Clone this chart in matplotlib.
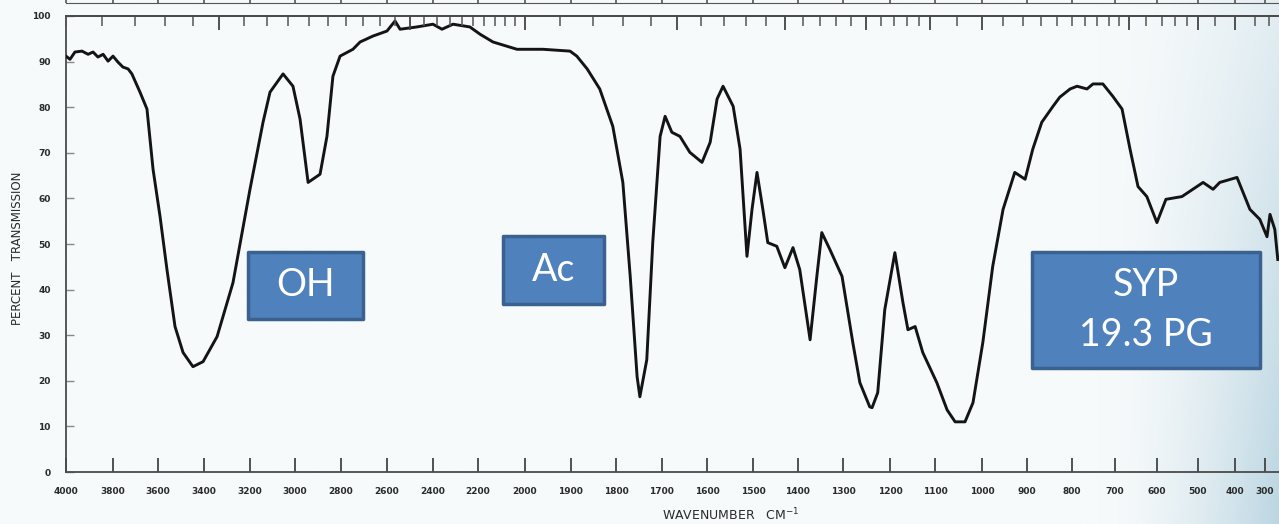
import numpy as np
import matplotlib
matplotlib.use("Agg")
import matplotlib.pyplot as plt
from matplotlib.patches import Rectangle

# ---------------- data ----------------
wavenumber = [4000, 3983, 3962, 3932, 3906, 3885, 3864, 3842, 3821, 3800, 3778, 3756, 3733, 3716,
              3680, 3649, 3622, 3591, 3561, 3526, 3491, 3448, 3404, 3343, 3274,
              3200, 3142, 3111, 3053, 3009, 2978, 2943, 2891, 2861, 2835, 2804,
              2748, 2717, 2661, 2600, 2565, 2543, 2470, 2400, 2360, 2311, 2236, 2191, 2136,
              2034, 1961, 1902, 1887, 1864, 1836, 1807, 1785, 1769, 1754, 1748, 1733,
              1720, 1704, 1693, 1678, 1660, 1638, 1611, 1593, 1578, 1565, 1543,
              1528, 1513, 1502, 1491, 1478, 1467, 1447, 1429, 1411, 1396, 1373, 1358, 1347,
              1329, 1302, 1279, 1264, 1243, 1238, 1226, 1211, 1189, 1171, 1160, 1144,
              1127, 1096, 1074, 1057, 1036, 1019, 998, 976, 953, 927, 904, 887,
              867, 842, 827, 804, 788, 765, 751, 728, 705, 683, 664, 645,
              624, 600, 578, 539, 486, 459, 441, 393, 350, 317, 293, 283, 267, 257]
transmission = [91.2, 90.5, 92.1, 92.3, 91.6, 92.1, 91.0, 91.6, 90.1, 91.2, 89.9, 88.8, 88.4, 87.3,
                83.3, 79.6, 66.4, 56.0, 44.4, 31.9, 26.2, 23.1, 24.2, 29.7, 41.5,
                62.0, 76.7, 83.3, 87.3, 84.6, 77.4, 63.5, 65.3, 73.6, 86.8, 91.2,
                92.7, 94.3, 95.6, 96.7, 98.9, 97.1, 97.6, 98.2, 97.1, 98.2, 97.6, 96.0, 94.3,
                92.7, 92.7, 92.3, 91.2, 88.4, 84.0, 75.8, 63.5, 42.9, 20.9, 16.5, 24.6,
                50.3, 73.6, 78.0, 74.5, 73.6, 70.1, 67.9, 72.3, 81.8, 84.6, 80.2,
                70.8, 47.3, 57.6, 65.7, 57.6, 50.3, 49.5, 44.8, 49.2, 44.4, 29.0, 42.9, 52.5,
                48.8, 42.9, 28.4, 19.6, 14.3, 14.1, 17.4, 35.6, 48.1, 37.1, 31.2, 31.9,
                26.2, 19.6, 13.6, 11.0, 11.0, 15.2, 28.4, 45.1, 57.6, 65.7, 64.2, 70.8,
                76.7, 80.2, 82.2, 84.0, 84.6, 84.0, 85.1, 85.1, 82.4, 79.6, 70.8, 62.6,
                60.4, 54.7, 59.8, 60.4, 63.5, 62.0, 63.5, 64.6, 57.6, 55.4, 51.6, 56.5, 53.2, 46.6]

x_ticks = [4000, 3800, 3600, 3400, 3200, 3000, 2800, 2600, 2400, 2200, 2000, 1900, 1800, 1700,
           1600, 1500, 1400, 1300, 1200, 1100, 1000, 900, 800, 700, 600, 500, 400, 300]
x_tick_labels = [str(v) for v in x_ticks]
y_ticks = [0, 10, 20, 30, 40, 50, 60, 70, 80, 90, 100]
y_tick_labels = [str(v) for v in y_ticks]
top_micron_minor = list(np.round(np.arange(2.5, 5.0, 0.1), 2)) + list(np.round(np.arange(5.0, 9.0, 0.2), 2)) + \
    list(np.round(np.arange(9.0, 15.0, 0.5), 2)) + [15, 16, 17, 18, 19, 20, 22, 25, 30, 35]
top_micron_major = [3, 4, 5, 6, 7, 8, 9, 10, 15, 20, 25]

annotations = ["OH", "Ac", "SYP\n19.3 PG"]

# ---------------- chart x calibration (grating change at 2000 cm-1) ----------------
scale_wn = np.array([4100] + x_ticks + [200], dtype=float)
scale_pos = np.array([42.5, 66, 113, 158, 204, 250, 295, 341, 387, 433, 478, 525, 571, 616, 662,
                      707, 753, 798, 843, 890, 935, 982, 1027, 1072, 1115, 1157, 1198, 1235, 1265, 1295],
                     dtype=float)


def fwd(w):
    # increasing with wavenumber (axis is then shown inverted: 4000 on the left)
    return -np.interp(w, scale_wn[::-1], scale_pos[::-1])


def inv(t):
    return np.interp(-np.asarray(t, dtype=float), scale_pos, scale_wn)


W, H = 1279, 524
fig = plt.figure(figsize=(W / 100, H / 100), dpi=100)

# paper background with a bluish tint at the right edge
bg = fig.add_axes([0, 0, 1, 1], zorder=-5)
gx = np.linspace(0, 1, 400)[None, :]
gy = np.linspace(0, 1, 200)[:, None]
wgt = np.clip((gx - 0.86) / 0.14, 0, 1) ** 1.6 * (0.35 + 0.65 * gy)
base = np.array([247, 250, 251]) / 255
tint = np.array([188, 214, 226]) / 255
img = base[None, None, :] * (1 - wgt[..., None]) + tint[None, None, :] * wgt[..., None]
bg.imshow(img, aspect="auto", extent=[0, 1, 0, 1], origin="upper")
bg.set_axis_off()

ax = fig.add_axes([66 / W, (H - 472) / H, (W - 66) / W, 456 / H])
ax.set_facecolor("none")
ax.set_xscale("function", functions=(fwd, inv))
ax.set_xlim(4000, 253)
ax.set_ylim(0, 100)

ax.plot(wavenumber, transmission, color="#141414", lw=2.1, solid_joinstyle="round", zorder=3)

for s in ["left", "bottom", "top"]:
    ax.spines[s].set_color("#4a4a4a")
    ax.spines[s].set_linewidth(1.3)
ax.spines["right"].set_visible(False)

tick_font = dict(fontsize=6.5, fontweight="bold", color="#2a2a2a")
ax.set_xticks(x_ticks)
ax.set_xticklabels(x_tick_labels, **tick_font)
ax.xaxis.set_minor_locator(matplotlib.ticker.NullLocator())
ax.set_yticks(y_ticks)
ax.set_yticklabels(y_tick_labels, **tick_font)
ax.tick_params(axis="x", direction="in", length=10, width=1.3, color="#444444", pad=11)
ax.tick_params(axis="y", direction="in", length=6, width=1.0, color="#888888", pad=11)

# top wavelength (micron) ticks
ax2 = ax.twiny()
ax2.set_xscale("function", functions=(fwd, inv))
ax2.set_xlim(ax.get_xlim())
ax2.set_xticks([1e4 / m for m in top_micron_major])
ax2.set_xticks([1e4 / m for m in top_micron_minor], minor=True)
ax2.set_xticklabels([])
ax2.tick_params(axis="x", which="major", direction="in", length=10, width=1.3, color="#444444")
ax2.tick_params(axis="x", which="minor", direction="in", length=7, width=1.1, color="#555555")
for s in ["left", "bottom", "right"]:
    ax2.spines[s].set_visible(False)
ax2.spines["top"].set_color("#4a4a4a")
ax2.spines["top"].set_linewidth(1.3)

# bottom axis of the spectrum above (cut off at the top of the scan)
axp = fig.add_axes([66 / W, (H - 2.5) / H, (W - 66) / W, 0.02])
axp.set_facecolor("none")
axp.set_xscale("function", functions=(fwd, inv))
axp.set_xlim(4000, 253)
axp.set_xticks(x_ticks)
axp.set_xticklabels([])
axp.set_yticks([])
axp.tick_params(axis="x", direction="in", length=8, width=1.2, color="#555555")
for s in ["left", "right", "top"]:
    axp.spines[s].set_visible(False)
axp.spines["bottom"].set_color("#555555")

fig.text(731 / W, (H - 515) / H, "WAVENUMBER   CM$^{-1}$", fontsize=9, color="#2a2a2a",
         ha="center", va="center")
fig.text(18 / W, (H - 248) / H, "PERCENT   TRANSMISSION", fontsize=8.5, color="#2a2a2a",
         rotation=90, ha="center", va="center")

# blue annotation boxes
box_face = "#4F81BD"
box_edge = "#3A6190"
boxes = [(248, 252, 363, 319), (503, 236, 604, 304), (1032, 252, 1260, 368)]
for (x0, y0, x1, y1), label in zip(boxes, annotations):
    fig.add_artist(Rectangle((x0 / W, (H - y1) / H), (x1 - x0) / W, (y1 - y0) / H,
                             transform=fig.transFigure, facecolor=box_face, edgecolor=box_edge,
                             lw=2.5, joinstyle="round", zorder=10))
    fig.text((x0 + x1) / 2 / W, (H - (y0 + y1) / 2) / H, label, fontsize=27, color="white",
             family=["Lato", "DejaVu Sans"], ha="center", va="center", linespacing=1.45, zorder=11)

fig.savefig("out.png", dpi=100)
